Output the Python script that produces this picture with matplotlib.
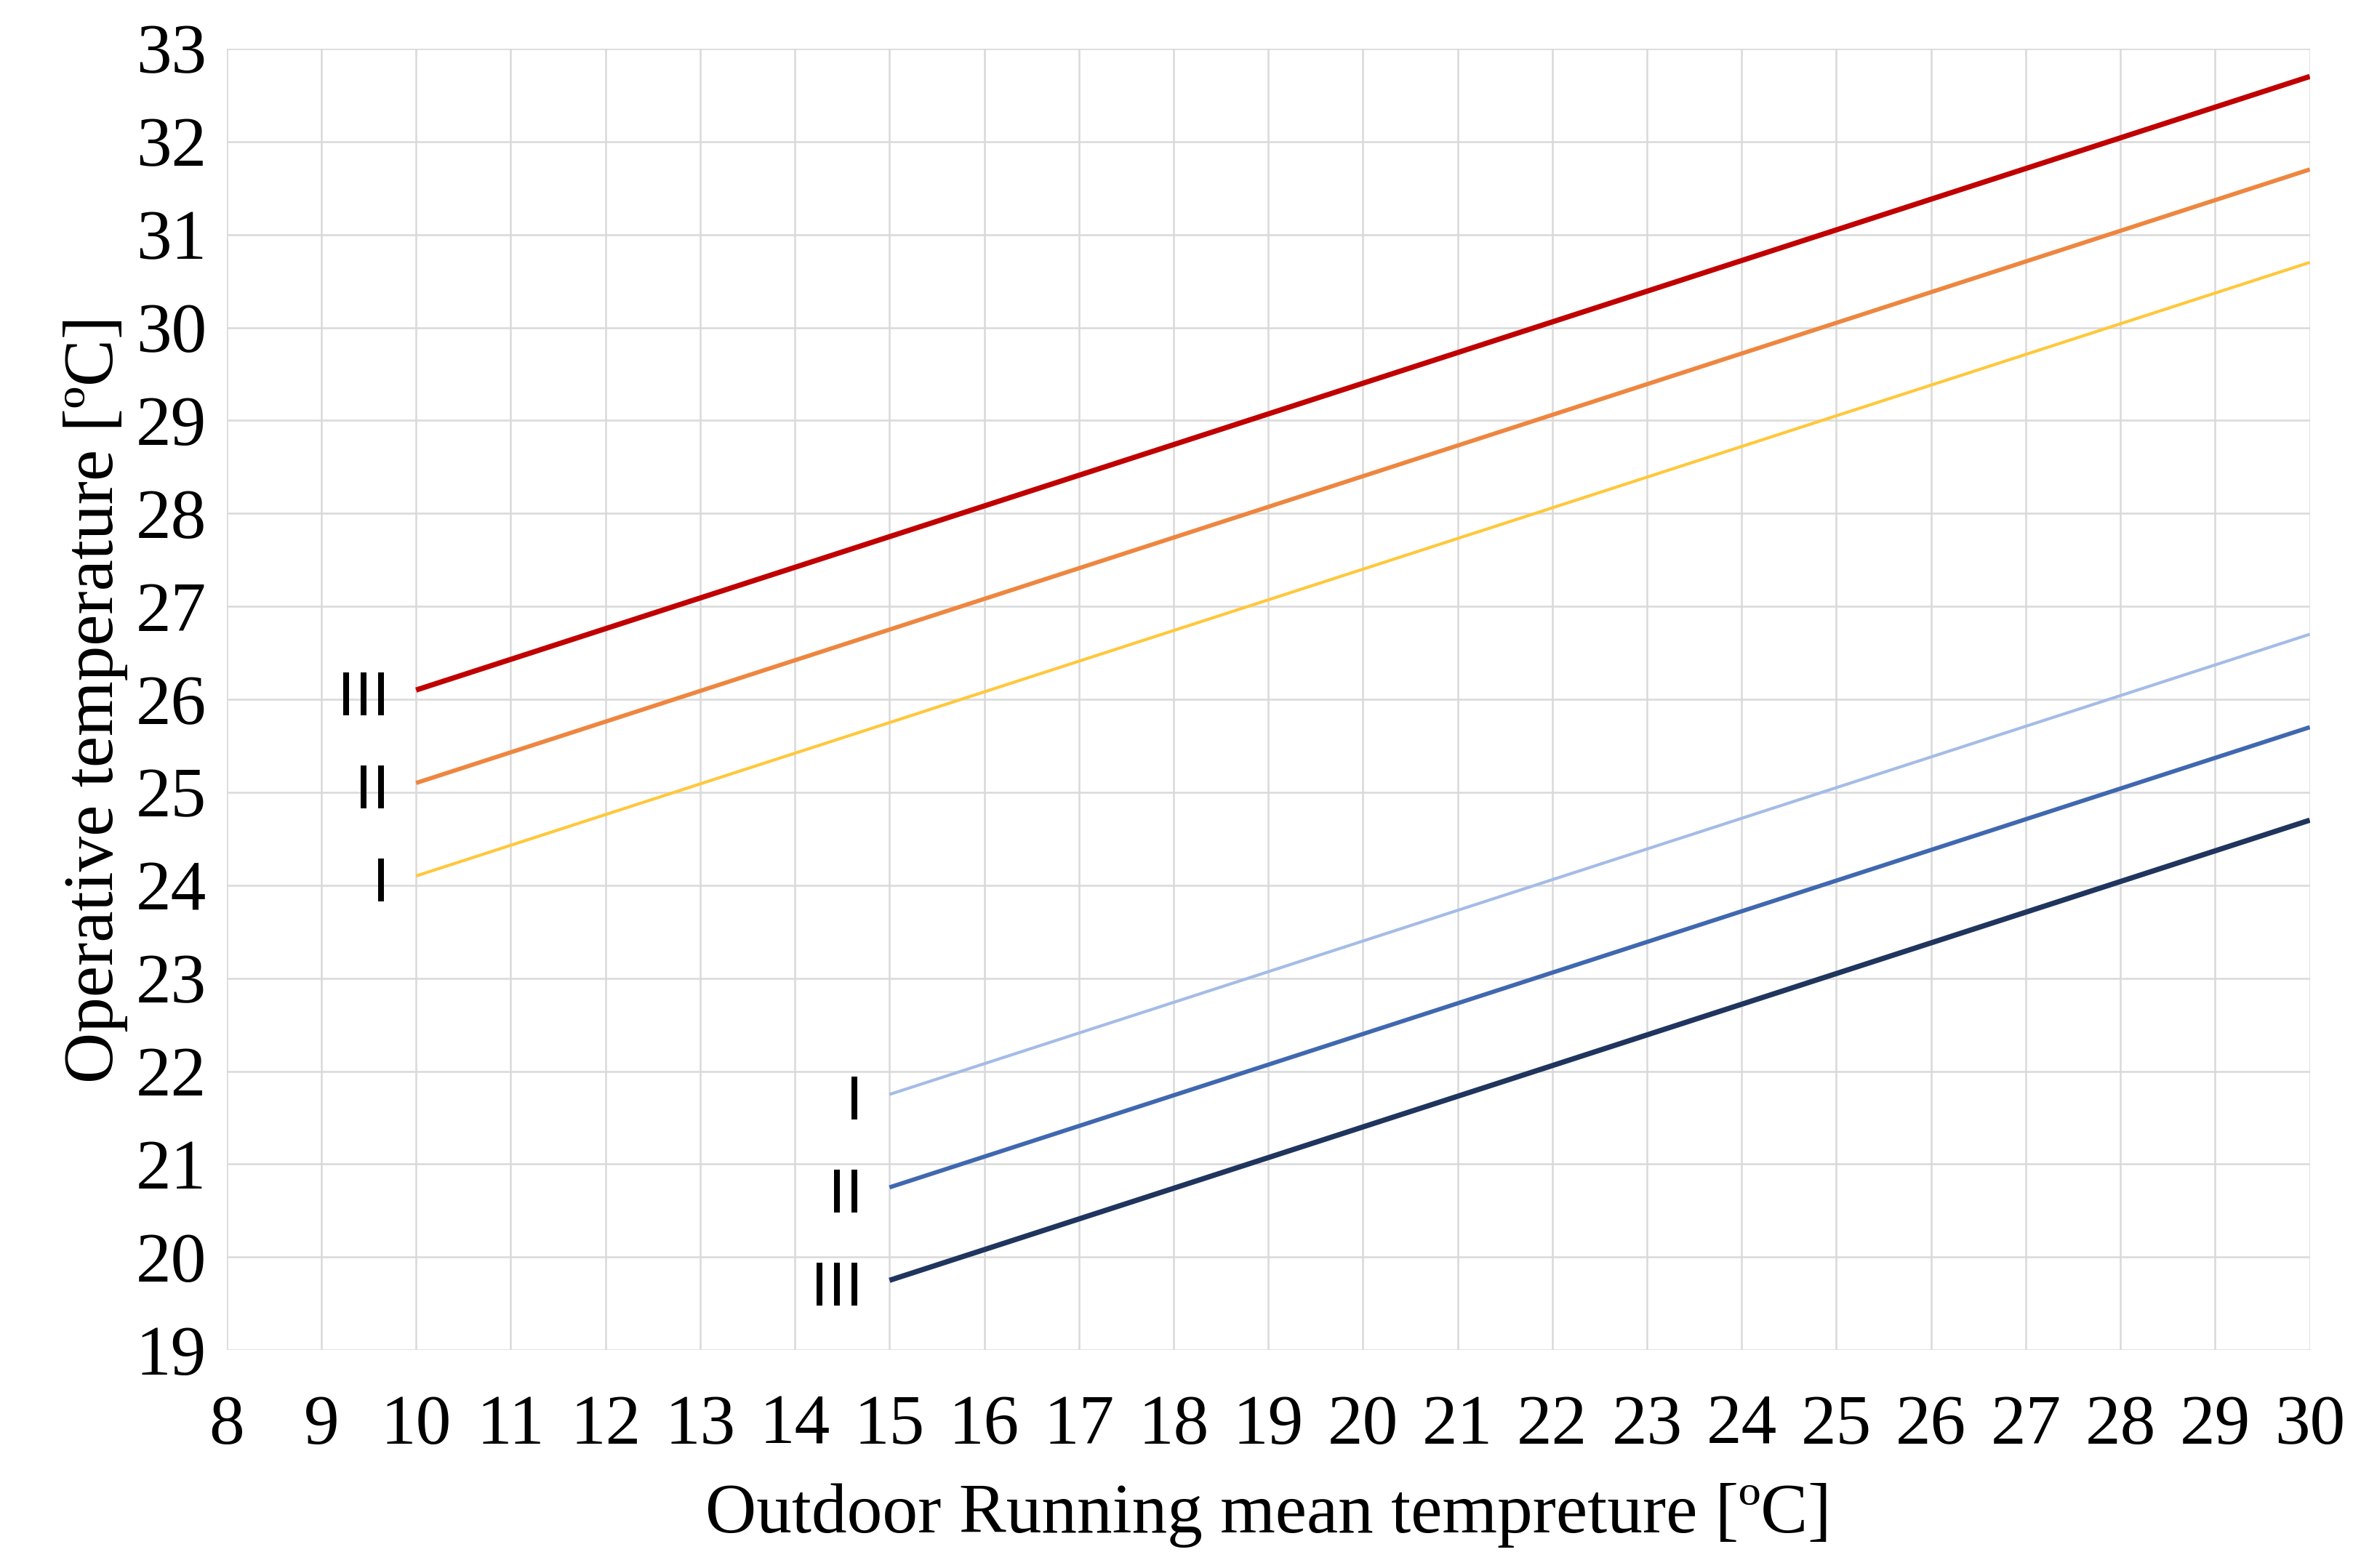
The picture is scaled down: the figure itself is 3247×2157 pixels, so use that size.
import matplotlib
matplotlib.use("Agg")
import matplotlib.pyplot as plt

# upper limits start at 10 degC, lower limits at 15 degC
upper_x = [10, 30]
upper_I = [24.1, 30.7]
upper_II = [25.1, 31.7]
upper_III = [26.1, 32.7]

lower_x = [15, 30]
lower_I = [21.75, 26.7]
lower_II = [20.75, 25.7]
lower_III = [19.75, 24.7]

x_ticks = list(range(8, 31))
y_ticks = list(range(19, 34))

fig = plt.figure(figsize=(16.24, 10.785), dpi=200)
ax = fig.add_axes([0.096, 0.139, 0.882, 0.83])

series = [
    (upper_x, upper_III, "#C00000", 2.6, "III"),
    (upper_x, upper_II, "#EE8640", 2.1, "II"),
    (upper_x, upper_I, "#FFC83A", 1.5, "I"),
    (lower_x, lower_I, "#A4BCE6", 1.5, "I"),
    (lower_x, lower_II, "#4068B0", 2.1, "II"),
    (lower_x, lower_III, "#1F355E", 2.6, "III"),
]
for xs, ys, color, lw, label in series:
    ax.plot(xs, ys, color=color, lw=lw, solid_capstyle="butt")
    ax.text(xs[0] - 0.28, ys[0] - 0.1, label, ha="right", va="center",
            fontsize=31, family="Liberation Sans")

ax.set_xlim(8, 30)
ax.set_ylim(19, 33)
ax.set_xticks(x_ticks)
ax.set_yticks(y_ticks)
ax.grid(True, color="#D9D9D9", lw=0.9)
ax.set_axisbelow(True)
for s in ax.spines.values():
    s.set_visible(False)
ax.tick_params(axis="x", length=0, labelsize=35, pad=22)
ax.tick_params(axis="y", length=0, labelsize=35, pad=10)
for lab in ax.get_xticklabels() + ax.get_yticklabels():
    lab.set_family("Liberation Serif")
ax.set_xlabel("Outdoor Running mean tempreture [ºC]", fontsize=35,
              family="Liberation Serif", labelpad=12)
ax.set_ylabel("Operative temperature [ºC]", fontsize=35,
              family="Liberation Serif", labelpad=4)

fig.savefig("out.png", dpi=200, facecolor="white")
